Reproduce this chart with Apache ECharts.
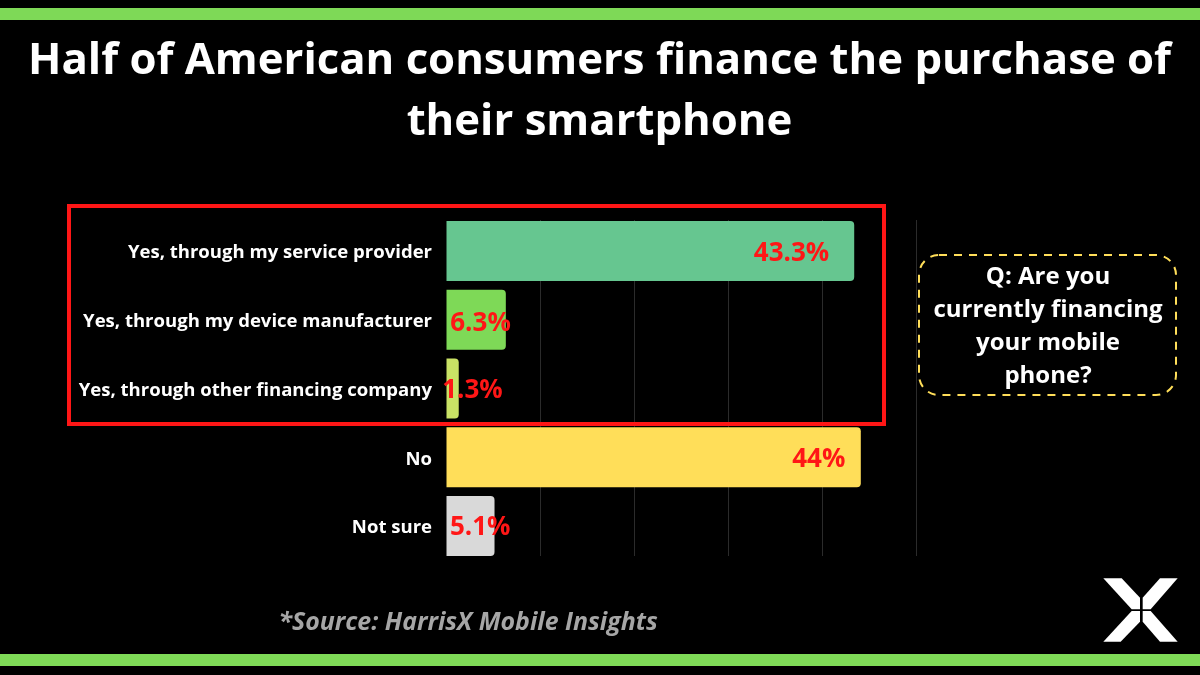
<!DOCTYPE html>
<html><head><meta charset="utf-8">
<style>html,body{margin:0;padding:0;background:#000}#c{width:1200px;height:675px}</style>
<script src="https://cdn.jsdelivr.net/npm/echarts@6/dist/echarts.min.js"></script></head>
<body><div id="c"></div>
<script>
const categories = ['Yes, through my service provider','Yes, through my device manufacturer','Yes, through other financing company','No','Not sure'];
const values = [43.3,6.3,1.3,44,5.1];
const valueLabels = ['43.3%','6.3%','1.3%','44%','5.1%'];
const barColors = ['#66c690','#7ed957','#c9e265','#ffde59','#d9d9d9'];
const labelShifts = [[-25,2.5],[5,4],[44,2],[-15.5,2],[16,1.5]];
const titleText = 'Half of American consumers finance the purchase of\ntheir smartphone';
const questionText = 'Q: Are you\ncurrently financing\nyour mobile\nphone?';
const sourceText = '*Source: HarrisX Mobile Insights';
const font = '"Open Sans"';
const logoArms = [
 [[70,55],[125,55],[180,113],[180,148],[155,148]],
 [[293,55],[240,55],[188,113],[188,148],[212,148]],
 [[70,245],[122,245],[180,185],[180,153],[155,153]],
 [[293,245],[240,245],[188,185],[188,153],[212,153]]
];
const chart = echarts.init(document.getElementById('c'),null,{renderer:'canvas'});
chart.setOption({
 animation:false,
 backgroundColor:'#000',
 title:{text:titleText,left:594.5,top:26,textAlign:'center',
  textStyle:{color:'#fff',fontFamily:font,fontWeight:700,fontSize:43.7,lineHeight:61}},
 grid:[
  {left:446.5,width:470.8,top:216.6,height:343.8},
  {left:446.5,width:470,top:220,height:336}
 ],
 xAxis:[
  {type:'value',gridIndex:0,min:0,max:50,interval:10,show:false},
  {type:'value',gridIndex:1,min:0,max:50,interval:10,
   axisLabel:{show:false},axisLine:{show:false},axisTick:{show:false},
   splitLine:{show:true,showMinLine:false,lineStyle:{color:'#2b2b2b',width:1}}}
 ],
 yAxis:[
  {type:'category',gridIndex:0,inverse:true,data:categories,
   axisLine:{show:false},axisTick:{show:false},
   axisLabel:{margin:14.5,formatter:'{a|{value}}',
    rich:{a:{color:'#fff',fontFamily:font,fontWeight:700,fontSize:18.55,padding:[4,0,0,0]}}}},
  {type:'value',gridIndex:1,show:false}
 ],
 series:[{
  type:'bar',xAxisIndex:0,yAxisIndex:0,barWidth:60,
  data:values.map((v,i)=>({
   value:v,
   itemStyle:{color:barColors[i],borderRadius:[0,4,4,0]},
   label:{show:true,position:'insideRight',distance:0,offset:labelShifts[i],
    formatter:valueLabels[i],color:'#ff1616',fontFamily:font,fontWeight:700,fontSize:26}
  }))
 }],
 graphic:[
  {type:'rect',z:50,shape:{x:69,y:206,width:815,height:218},
   style:{fill:'none',stroke:'#ff1616',lineWidth:4}},
  {type:'rect',z:50,shape:{x:919,y:255,width:257,height:140,r:20},
   style:{fill:'none',stroke:'#ffde59',lineWidth:2,lineDash:[8,7]}},
  {type:'text',z:50,style:{x:1048,y:261,text:questionText,fill:'#fff',align:'center',
    fontFamily:font,fontWeight:700,fontSize:24,lineHeight:33}},
  {type:'text',z:50,style:{x:278.5,y:610,text:sourceText,fill:'#a6a6a6',
    fontFamily:font,fontWeight:700,fontStyle:'italic',fontSize:24.9}},
  {type:'rect',z:50,shape:{x:0,y:8,width:1200,height:12},style:{fill:'#7ed957'}},
  {type:'rect',z:50,shape:{x:0,y:654,width:1200,height:12},style:{fill:'#7ed957'}},
  ...logoArms.map(arm=>({type:'polygon',z:50,
    shape:{points:arm.map(p=>[1080+p[0]/3,560+p[1]/3])},style:{fill:'#fff'}}))
 ]
});
</script></body></html>
